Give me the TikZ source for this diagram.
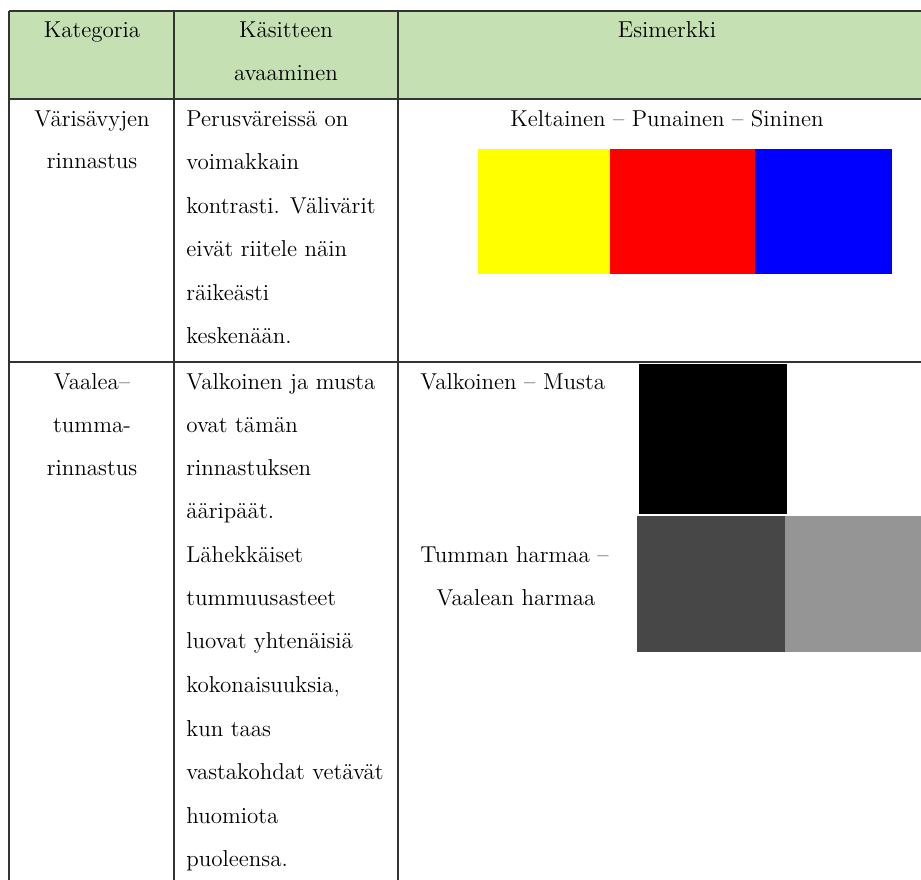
\documentclass[tikz,border=0pt]{standalone}
\definecolor{hdr}{HTML}{C5E0B3}
\definecolor{rule}{HTML}{333333}
\definecolor{txt}{HTML}{000000}
\definecolor{dgray}{HTML}{474747}
\definecolor{lgray}{HTML}{959595}
\definecolor{pyellow}{HTML}{FFFF00}
\definecolor{pred}{HTML}{FF0000}
\definecolor{pblue}{HTML}{0000FF}
\tikzset{
  cell/.style={anchor=base, inner sep=0pt, text=txt, font=\fontsize{11.5pt}{14pt}\selectfont},
  lcell/.style={cell, anchor=base west},
  tline/.style={draw=rule, line width=0.9pt}
}
\begin{document}
\begin{tikzpicture}[x=0.5pt, y=-0.5pt]
\useasboundingbox (0,0) rectangle (921,879);
\clip (0,0) rectangle (921,879);
% header fill
\fill[hdr] (9,11) rectangle (940,99);
% grid
\draw[tline] (9,11) -- (940,11);
\draw[tline] (9,99) -- (940,99);
\draw[tline] (9,362) -- (940,362);
\draw[tline] (9,11) -- (9,900);
\draw[tline] (174,11) -- (174,900);
\draw[tline] (398,11) -- (398,900);
% header text
\node[cell] (h1) at (92,37) {Kategoria};
\node[cell] (h2a) at (286,37) {Käsitteen};
\node[cell] (h2b) at (286,80) {avaaminen};
\node[cell] (h3) at (667,37) {Esimerkki};
% row 1
\node[cell] (r1a) at (92,126) {Värisävyjen};
\node[cell] (r1b) at (92,168) {rinnastus};
\node[lcell] (p1) at (186,126) {Perusväreissä on};
\node[lcell] (p2) at (186,169) {voimakkain};
\node[lcell] (p3) at (186,213) {kontrasti. Välivärit};
\node[lcell] (p4) at (186,256) {eivät riitele näin};
\node[lcell] (p5) at (186,300) {räikeästi};
\node[lcell] (p6) at (186,343) {keskenään.};
\node[cell] (e1) at (667,126) {Keltainen -- Punainen -- Sininen};
\fill[pyellow] (478,149) rectangle (611,274);
\fill[pred] (610,149) rectangle (755,274);
\fill[pblue] (755,149) rectangle (892,274);
% row 2
\node[cell] (r2a) at (92,389) {Vaalea--};
\node[cell] (r2b) at (92,432) {tumma-};
\node[cell] (r2c) at (92,475) {rinnastus};
\node[lcell] (q1) at (186,389) {Valkoinen ja musta};
\node[lcell] (q2) at (186,432) {ovat tämän};
\node[lcell] (q3) at (186,475) {rinnastuksen};
\node[lcell] (q4) at (186,518) {ääripäät.};
\node[lcell] (q5) at (186,562) {Lähekkäiset};
\node[lcell] (q6) at (186,605) {tummuusasteet};
\node[lcell] (q7) at (186,648) {luovat yhtenäisiä};
\node[lcell] (q8) at (186,692) {kokonaisuuksia,};
\node[lcell] (q9) at (186,736) {kun taas};
\node[lcell] (q10) at (186,779) {vastakohdat vetävät};
\node[lcell] (q11) at (186,823) {huomiota};
\node[lcell] (q12) at (186,866) {puoleensa.};
\node[lcell] (v1) at (420,389) {Valkoinen -- Musta};
\fill[black] (639,364) rectangle (787,514);
\node[lcell] (t1) at (420,562) {Tumman harmaa --};
\node[cell] (t2) at (516,605) {Vaalean harmaa};
\fill[dgray] (637,516) rectangle (786,652);
\fill[lgray] (785,516) rectangle (940,652);
\end{tikzpicture}
\end{document}
